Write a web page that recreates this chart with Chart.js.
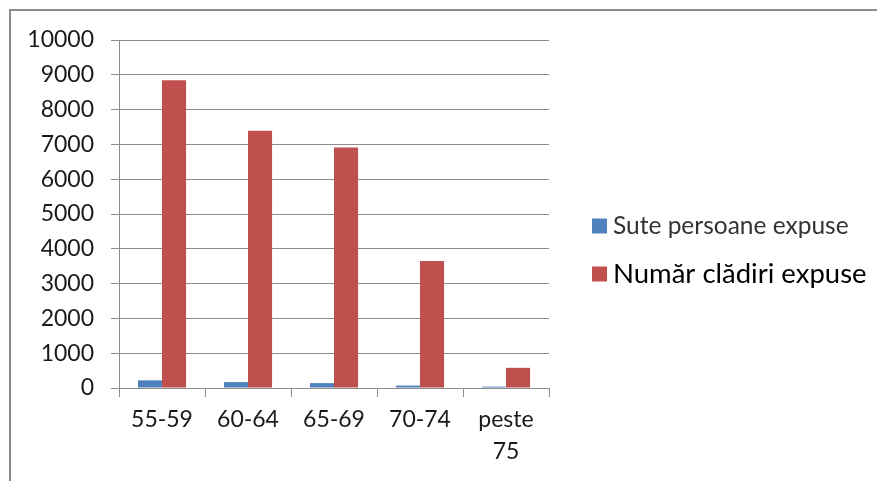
<!DOCTYPE html>
<html>
<head>
<meta charset="utf-8">
<script src="https://cdn.jsdelivr.net/npm/chart.js@4"></script>
<style>
  body { margin: 0; background: #fff; }
  #wrap { position: relative; width: 877px; height: 481px; overflow: hidden; }
  #frame { position: absolute; left: 9px; top: 9px; width: 900px; height: 500px;
           border-left: 2px solid #8c8c8c; border-top: 2px solid #8c8c8c; }
  canvas { position: absolute; left: 0; top: 0; }
</style>
</head>
<body>
<div id="wrap">
  <div id="frame"></div>
  <canvas id="myChart" width="877" height="481"></canvas>
</div>
<script>
// data
var categories = ['55-59', '60-64', '65-69', '70-74', ['peste', '75']];
var seriesNames = ['Sute persoane expuse', 'Număr clădiri expuse'];
var persoane = [220, 170, 140, 70, 40];
var cladiri = [8840, 7390, 6910, 3650, 580];
var yTicks = [0, 1000, 2000, 3000, 4000, 5000, 6000, 7000, 8000, 9000, 10000];

var FONT = 'Lato';

// legend drawn by hand: the two entries use slightly different sizes
const sideLegend = {
  id: 'sideLegend',
  afterDraw(chart) {
    const ctx = chart.ctx;
    const items = [
      { y: 226, size: 24.5, color: '#333333' },
      { y: 274, size: 27.5, color: '#000000' }
    ];
    chart.data.datasets.forEach(function (ds, i) {
      const it = items[i];
      ctx.save();
      ctx.fillStyle = ds.backgroundColor;
      ctx.fillRect(592, it.y - 7.5, 15, 15);
      ctx.font = it.size + 'px ' + FONT;
      ctx.fillStyle = it.color;
      ctx.textBaseline = 'middle';
      ctx.fillText(ds.label, 613, it.y);
      ctx.restore();
    });
  }
};

const data = {
  labels: categories,
  datasets: [{
    label: seriesNames[0],
    data: persoane,
    backgroundColor: '#4F81BD'
  }, {
    label: seriesNames[1],
    data: cladiri,
    backgroundColor: '#C0504D'
  }]
};

const config = {
  type: 'bar',
  data,
  options: {
    responsive: false,
    animation: false,
    categoryPercentage: 0.56,
    barPercentage: 1.0,
    layout: { padding: { top: 40, right: 328, left: 0, bottom: 0 } },
    plugins: {
      legend: { display: false },
      tooltip: { enabled: false }
    },
    scales: {
      x: {
        afterFit: function (scale) { scale.height = 93; },
        grid: {
          offset: true,
          drawOnChartArea: false,
          color: '#8c8c8c',
          tickLength: 9
        },
        border: { color: '#8c8c8c' },
        ticks: {
          color: '#1a1a1a',
          padding: 6,
          maxRotation: 0,
          font: { family: FONT, size: 23, lineHeight: 1.4 }
        }
      },
      y: {
        min: 0,
        max: 10000,
        afterFit: function (scale) { scale.width = 119; },
        afterBuildTicks: function (scale) {
          scale.ticks = yTicks.map(function (v) { return { value: v }; });
        },
        grid: { color: '#8c8c8c', tickLength: 8 },
        border: { color: '#8c8c8c' },
        ticks: {
          color: '#1a1a1a',
          padding: 17,
          font: { family: FONT, size: 23 },
          callback: function (v) { return String(v); }
        }
      }
    }
  },
  plugins: [sideLegend]
};

const myChart = new Chart(document.getElementById('myChart'), config);
</script>
</body>
</html>
